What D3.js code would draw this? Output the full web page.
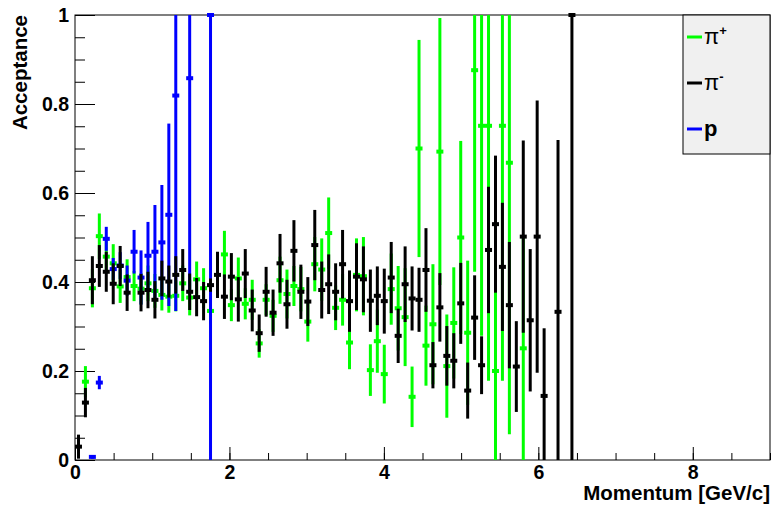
<!DOCTYPE html>
<html><head><meta charset="utf-8">
<script src="https://cdn.jsdelivr.net/npm/d3@7"></script>
<style>html,body{margin:0;padding:0;background:#fff;} svg{display:block;font-family:"Liberation Sans",Arial,Helvetica,sans-serif;}</style>
</head><body><svg id="c" width="773" height="506"></svg>
<script>
// Momentum bin centres [GeV/c]
const momentum = [0.045,0.135,0.225,0.315,0.405,0.495,0.585,0.675,0.765,0.855,
  0.945,1.035,1.125,1.215,1.305,1.395,1.485,1.575,1.665,1.755,
  1.845,1.935,2.025,2.115,2.205,2.295,2.385,2.475,2.565,2.655,
  2.745,2.835,2.925,3.015,3.105,3.195,3.285,3.375,3.465,3.555,
  3.645,3.735,3.825,3.915,4.005,4.095,4.185,4.275,4.365,4.455,
  4.545,4.635,4.725,4.815,4.905,4.995,5.085,5.175,5.265,5.355,
  5.445,5.535,5.625,5.715,5.805,5.895,5.985,6.075,6.165,6.255,
  6.345,6.435];
// pi+ acceptance and errors
const piPlus = [null,0.176,0.386,0.503,0.457,0.442,0.390,0.411,0.391,0.385,
  0.397,0.380,0.371,0.367,0.369,0.397,0.365,0.406,0.386,0.335,
  null,0.462,0.348,0.408,0.351,0.360,0.262,0.360,0.324,0.404,
  0.373,0.391,0.384,0.311,0.440,0.428,0.510,0.342,0.360,0.264,
  0.416,0.413,0.202,0.267,0.193,0.384,0.341,0.321,0.142,0.700,
  0.257,0.305,0.693,0.211,0.308,0.500,0.286,0.876,0.751,0.751,
  0.200,0.751,0.668,null,0.251,null,null,null,null,null,
  null,null];
const piPlusErr = [null,0.035,0.043,0.051,0.035,0.043,0.037,0.040,0.034,0.035,
  0.040,0.038,0.035,0.036,0.035,0.040,0.040,0.040,0.045,0.030,
  null,0.053,0.036,0.047,0.035,0.045,0.032,0.035,0.036,0.053,
  0.055,0.045,0.050,0.045,0.061,0.070,0.080,0.050,0.058,0.060,
  0.082,0.088,0.058,0.071,0.066,0.080,0.095,0.110,0.068,0.244,
  0.090,0.135,0.300,0.116,0.125,0.217,0.162,0.453,0.472,0.573,
  0.200,0.573,0.610,null,0.251,null,null,null,null,null,
  null,null];
// pi- acceptance and errors
const piMinus = [0.030,0.129,0.404,0.436,0.423,0.396,0.436,0.376,null,0.376,
  0.382,0.360,0.408,0.401,0.416,0.427,0.378,0.366,0.357,0.393,
  0.416,0.367,0.412,0.361,0.419,0.336,0.285,0.378,0.331,0.442,
  0.350,0.470,0.378,0.356,0.483,0.382,0.395,0.378,0.440,0.357,
  0.412,0.406,0.358,0.369,0.357,0.410,0.279,0.395,0.363,0.360,
  0.427,0.213,0.343,0.234,0.223,0.352,0.156,0.320,0.213,0.472,
  0.530,0.434,0.348,0.210,0.502,0.314,0.502,0.144,null,0.333,
  null,1.000];
const piMinusErr = [0.027,0.033,0.054,0.047,0.045,0.046,0.045,0.041,null,0.042,
  0.041,0.042,0.040,0.036,0.042,0.047,0.041,0.043,0.043,0.015,
  0.052,0.050,0.053,0.050,0.055,0.047,0.042,0.056,0.052,0.066,
  0.055,0.069,0.061,0.055,0.079,0.064,0.067,0.064,0.077,0.069,
  0.075,0.074,0.070,0.066,0.073,0.080,0.061,0.085,0.072,0.072,
  0.094,0.052,0.077,0.067,0.062,0.091,0.063,0.095,0.065,0.142,
  0.154,0.144,0.142,0.102,0.216,0.160,0.306,0.152,null,0.386,
  null,1.000];
// proton acceptance and errors
const proton = [null,null,0.007,0.174,0.497,0.429,0.437,0.403,0.468,0.410,
  0.459,0.468,0.489,0.551,0.819,null,0.858,null,null,1.000];
const protonErr = [null,null,0.004,0.015,0.027,0.025,0.030,0.034,0.049,0.061,
  0.076,0.105,0.129,0.205,0.484,null,0.485,null,null,1.000];

const legendLabels = [["π","+"],["π","-"],["p",""]];
const colors = ["#00ff00","#000000","#0000ff"];

const svg = d3.select("#c");
svg.append("rect").attr("width",773).attr("height",506).attr("fill","#fff");
const L=75,R=770,T=15,B=460;
const x = d3.scaleLinear().domain([0,9]).range([L,R]);
const y = d3.scaleLinear().domain([0,1]).range([B,T]);

// axes
const fs = 19.5;
const yMajor = svg.append("g").attr("transform",`translate(${L},0)`)
  .call(d3.axisLeft(y).tickValues([0,0.2,0.4,0.6,0.8,1]).tickSize(-20).tickPadding(6).tickFormat(d3.format("")));
const yMinor = svg.append("g").attr("transform",`translate(${L},0)`)
  .call(d3.axisLeft(y).tickValues(d3.range(0,1.001,0.05)).tickSize(-10).tickFormat(""));
const xMajor = svg.append("g").attr("transform",`translate(0,${B})`)
  .call(d3.axisBottom(x).tickValues([0,2,4,6,8]).tickSize(-13).tickPadding(5).tickFormat(d3.format("")));
const xMinor = svg.append("g").attr("transform",`translate(0,${B})`)
  .call(d3.axisBottom(x).tickValues(d3.range(0,9.001,0.5)).tickSize(-7).tickFormat(""));
[yMajor,yMinor,xMajor,xMinor].forEach(g=>{
  g.select(".domain").remove();
  g.selectAll("line").attr("stroke","#000").attr("stroke-width",1);
  g.selectAll("text").attr("font-size",fs).attr("font-weight","bold").attr("fill","#000")
   .attr("font-family","'Liberation Sans',Arial,sans-serif");
});
svg.append("rect").attr("x",L).attr("y",T).attr("width",R-L).attr("height",B-T)
  .attr("fill","none").attr("stroke","#000").attr("stroke-width",1);

// titles
svg.append("text").attr("transform",`translate(${27},${T}) rotate(-90)`)
  .attr("text-anchor","end").attr("font-size",20.5).attr("font-weight","bold").text("Acceptance");
svg.append("text").attr("x",R).attr("y",500).attr("text-anchor","end")
  .attr("font-size",20.5).attr("font-weight","bold").text("Momentum [GeV/c]");

// data
function drawSeries(vals, errs, color){
  const pts = vals.map((v,i)=>({m:momentum[i],v:v,e:errs[i]})).filter(d=>d.v!==null);
  const g = svg.append("g");
  g.selectAll("line").data(pts).enter().append("line")
    .attr("x1",d=>x(d.m)).attr("x2",d=>x(d.m))
    .attr("y1",d=>y(Math.max(0,d.v-d.e))).attr("y2",d=>y(Math.min(1,d.v+d.e)))
    .attr("stroke",color).attr("stroke-width",3);
  g.selectAll("rect").data(pts).enter().append("rect")
    .attr("x",d=>x(d.m)-3.5).attr("y",d=>y(d.v)-2).attr("width",7).attr("height",4)
    .attr("fill",color);
}
drawSeries(piPlus, piPlusErr, colors[0]);
drawSeries(proton, protonErr, colors[2]);
drawSeries(piMinus, piMinusErr, colors[1]);

// legend
const lg = svg.append("g");
lg.append("rect").attr("x",683).attr("y",T).attr("width",R-683).attr("height",139)
  .attr("fill","#f0f0f0").attr("stroke","#000").attr("stroke-width",1);
const ly = [37,83,129];
legendLabels.forEach((lab,i)=>{
  lg.append("line").attr("x1",687).attr("x2",702).attr("y1",ly[i]).attr("y2",ly[i])
    .attr("stroke",colors[i]).attr("stroke-width",3);
  const t = lg.append("text").attr("x",704).attr("y",ly[i]+7).attr("font-size",22)
    .attr("font-weight", i===2?"bold":"normal");
  t.append("tspan").text(lab[0]);
  if(lab[1]) t.append("tspan").attr("dy",-9).attr("font-size",13).attr("font-weight","bold").text(lab[1]);
});
</script></body></html>
